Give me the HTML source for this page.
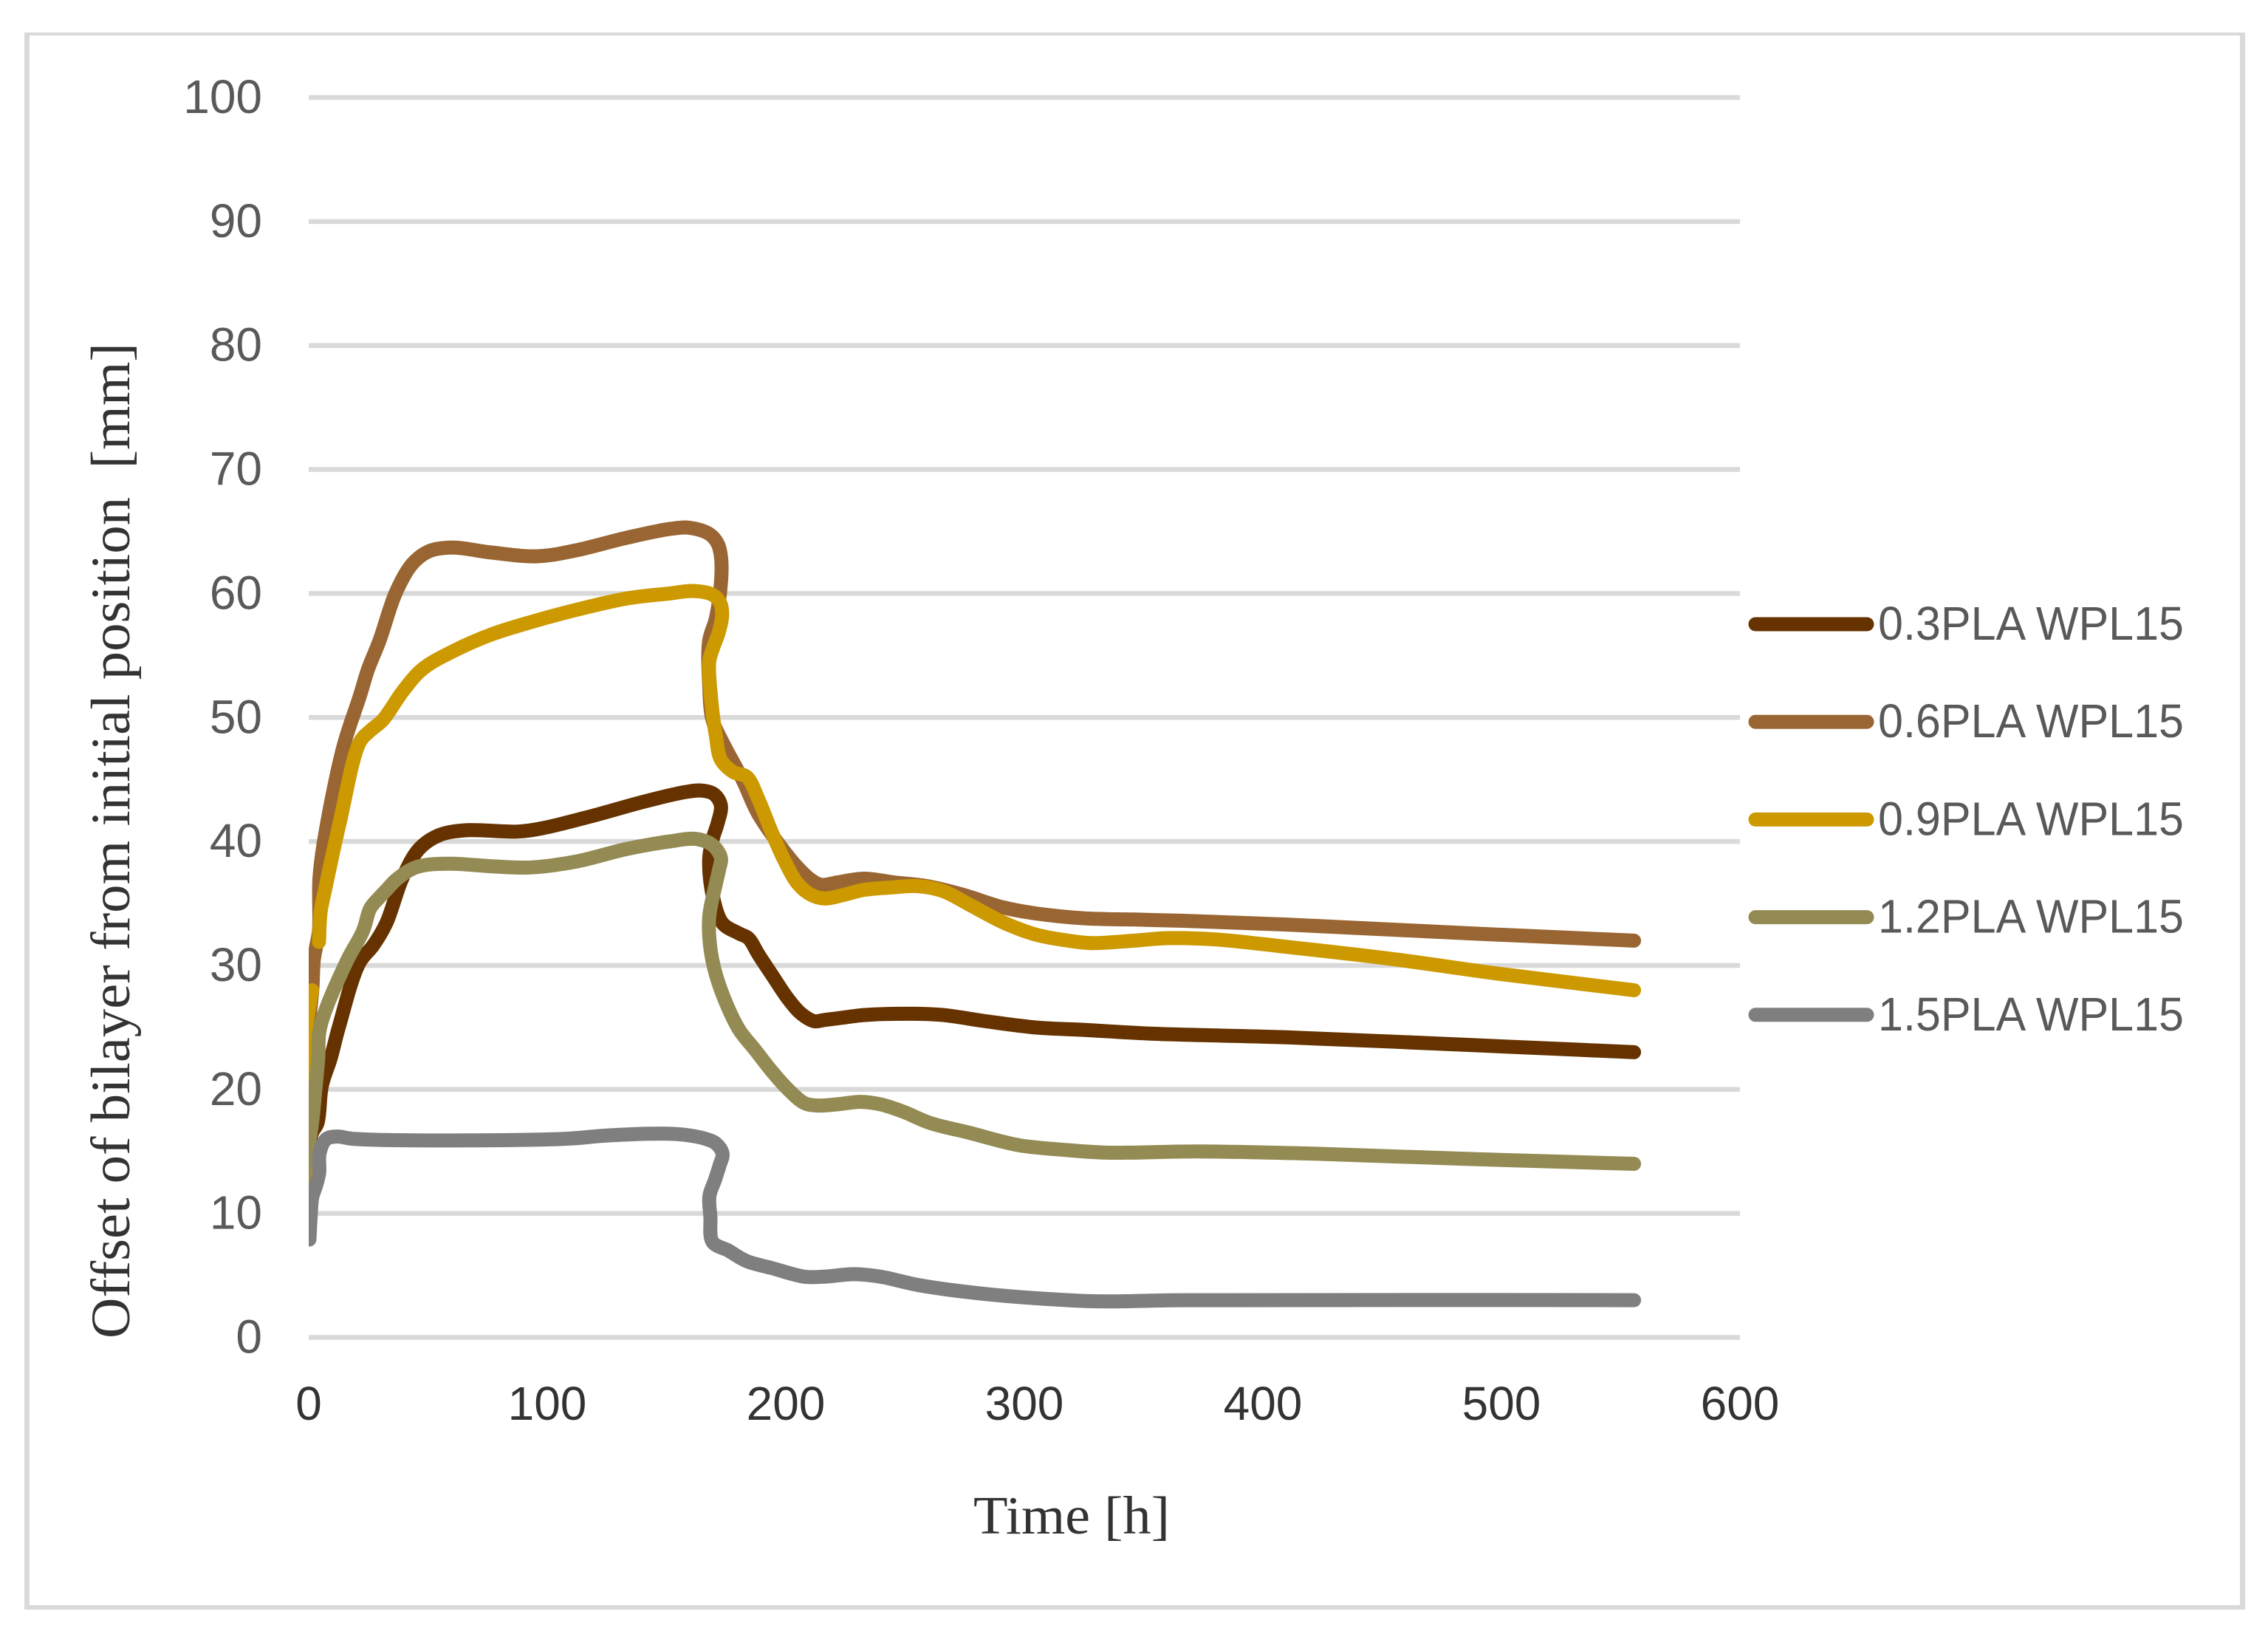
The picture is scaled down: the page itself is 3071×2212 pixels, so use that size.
<!DOCTYPE html>
<html lang="en">
<head>
<meta charset="utf-8">
<title>Offset of bilayer from initial position over time</title>
<style>
html,body{margin:0;padding:0;background:#fff;}
svg{display:block;}
text{white-space:pre;}
</style>
</head>
<body>
<svg id="chart" xmlns="http://www.w3.org/2000/svg" width="3071" height="2212" viewBox="0 0 3071 2212">
  <rect x="0" y="0" width="3071" height="2212" fill="#ffffff"/>
  <g fill="#d9d9d9">
    <rect x="33" y="44" width="3007" height="4"/>
    <rect x="33" y="44" width="7" height="2135"/>
    <rect x="3033" y="44" width="7" height="2135"/>
    <rect x="33" y="2173" width="3007" height="6"/>
  </g>
  <defs>
    <clipPath id="plot-clip"><rect x="418" y="0" width="2653" height="2212"/></clipPath>
  </defs>
  <g id="grid"></g>
  <g id="y-ticks"></g>
  <g id="x-ticks"></g>
  <g id="series" clip-path="url(#plot-clip)"></g>
  <g id="legend"></g>
  <text x="1318" y="2076" font-family="'Liberation Serif',serif" font-size="73" fill="#333333" textLength="266" lengthAdjust="spacingAndGlyphs">Time [h]</text>
  <text transform="translate(175,1812) rotate(-90)" x="0" y="0" font-family="'Liberation Serif',serif" font-size="75" fill="#333333" textLength="1348" lengthAdjust="spacingAndGlyphs" xml:space="preserve">Offset of bilayer from initial position  [mm]</text>
</svg>
<script>
const yTickValues = [0,10,20,30,40,50,60,70,80,90,100];
const xTickValues = [0,100,200,300,400,500,600];
const seriesNames = ['0.3PLA WPL15','0.6PLA WPL15','0.9PLA WPL15','1.2PLA WPL15','1.5PLA WPL15'];
const seriesColors = ['#663300','#996633','#cc9900','#948b54','#7f7f7f'];

const hours03 = [-1,1.2,3.7,5.5,9.2,12.6,21.2,27,32.5,39.4,46.3,54.6,65.7,87.8,98.8,119.6,140.3,158.3,165,170,172.8,171.5,169.5,167.9,169.3,173.5,180.2,184.3,188.5,194,201,206.5,212,216.1,224.4,232.7,253.5,265.9,283.9,304.6,325.3,353,410,485,555.6];
const values03 = [12.5,16.4,17.3,20.3,22.5,25,30.2,31.6,33.4,37.1,39.4,40.5,40.9,40.8,41.1,42.1,43.2,44,44.1,43.8,42.9,41.5,40.3,38.6,35.7,33.4,32.6,32.2,30.9,29.3,27.3,26.1,25.5,25.6,25.8,26,26.1,26,25.5,25,24.8,24.5,24.2,23.6,23];

const hours06 = [-1.9,-2.5,-1.2,1.5,2.1,3.1,4.3,4.5,6.5,14.5,21.4,24.9,29.7,36.6,43.5,50.4,60.1,76.7,96,112.6,133.4,151.3,159.6,167.9,171.5,172.9,172.8,170.7,167.9,167.9,169.3,173.5,181.8,188.5,198.2,205,210.6,214.8,221.7,232.7,245.2,259,274.2,290.8,304.6,325.3,346,366.8,410,485,555.6];
const values06 = [12.5,20.1,23.2,28,30.4,31.5,32.8,37,40.1,47.6,51.7,53.9,56.2,60.1,62.4,63.4,63.7,63.3,63,63.5,64.5,65.2,65.3,64.8,64,62.8,60.8,58,56.2,52.6,49.8,48,45,42.2,39.5,37.9,36.9,36.5,36.7,37,36.7,36.4,35.7,34.7,34.2,33.8,33.7,33.6,33.3,32.6,32];

const hours09 = [-1,-2.2,-1,1.4,null,4.3,5,7.3,13.1,21.4,25.6,31.1,39.4,47.7,60.1,76.7,93.3,112.6,133.4,151.3,161,169.3,172.6,173.3,171.8,169.5,167.9,168.6,170.7,172.8,178,183.7,188.5,194,199.6,205,210.6,216.1,224.4,232.7,245.2,254.8,265.9,277,290.8,304.6,318.4,328.1,346,359.9,380,410,455,500,555.6];
const values09 = [13,20.4,25,28,null,31.9,34.3,36.5,41.6,48,48.9,49.8,52.1,53.9,55.3,56.7,57.7,58.7,59.6,60,60.2,59.9,59.2,58.2,56.8,55.6,54.5,51.7,48.5,46.6,45.6,45.2,43.4,40.8,38.4,36.6,35.7,35.4,35.7,36.1,36.3,36.4,36,34.9,33.5,32.5,32,31.8,32,32.2,32.1,31.5,30.5,29.3,28];

const hours12 = [-2.5,1.4,2.8,4,4.8,15.6,22.8,25.8,29.7,33.1,36.6,43.5,49,60.1,76.7,93.3,112.6,133.4,151.3,162.4,169.3,172.8,172,170.7,167.9,168.6,172.1,180.2,187.1,194,201,207.8,213.4,221.7,231.3,239.6,249.3,260.4,277,297.7,318.4,335,372.5,425,485,555.6];
const values12 = [12.5,17.3,20,22.5,25,30.2,32.8,34.6,35.5,36.2,36.9,37.8,38.1,38.2,38,37.9,38.4,39.4,40,40.2,39.7,38.7,37.7,36.6,33.9,31.1,28.4,24.9,23.2,21.5,20,18.9,18.7,18.8,19,18.8,18.2,17.3,16.5,15.5,15.1,14.9,15,14.8,14.4,14];

const hours15 = [0.3,0.8,1.5,3.2,4.4,4.6,7.4,11.5,19.7,105.7,126.5,154,166.6,171,173.5,172.3,170.3,168,168.4,169.3,176,180.2,184.3,194,207.8,216.1,228.6,239.6,256.2,283.9,318.4,335,365,555.6];
const values15 = [7.9,9.7,11.3,12.3,13.3,14.9,16,16.2,16,16,16.3,16.4,16,15.6,14.8,13.9,12.7,11.4,9.7,7.7,7,6.5,6.1,5.6,4.9,4.9,5.1,4.9,4.2,3.5,3,2.9,3,3];

const seriesHours = [hours03,hours06,hours09,hours12,hours15];
const seriesValues = [values03,values06,values09,values12,values15];
const seriesKeys = ['series-0-3pla','series-0-6pla','series-0-9pla','series-1-2pla','series-1-5pla'];

const NS = 'http://www.w3.org/2000/svg';
const xAt = h => 418 + h * 3.23;
const yAt = v => 1810.5 - v * 16.785;

function smoothPath(pts){
  if(pts.length < 2) return '';
  let d = 'M' + pts[0][0].toFixed(1) + ' ' + pts[0][1].toFixed(1);
  const dist = (a,b) => Math.max(0.01, Math.pow(Math.hypot(a[0]-b[0], a[1]-b[1]), 0.5));
  for(let i = 0; i < pts.length - 1; i++){
    const p0 = pts[Math.max(0,i-1)], p1 = pts[i], p2 = pts[i+1], p3 = pts[Math.min(pts.length-1,i+2)];
    const d1 = dist(p0,p1), d2 = dist(p1,p2), d3 = dist(p2,p3);
    const c = [0,1].map(k => i === 0 ? p1[k] + (p2[k]-p1[k])/3 :
      (d1*d1*p2[k] - d2*d2*p0[k] + (2*d1*d1 + 3*d1*d2 + d2*d2)*p1[k]) / (3*d1*(d1+d2)));
    const e = [0,1].map(k => i === pts.length-2 ? p2[k] - (p2[k]-p1[k])/3 :
      (d3*d3*p1[k] - d2*d2*p3[k] + (2*d3*d3 + 3*d3*d2 + d2*d2)*p2[k]) / (3*d3*(d3+d2)));
    d += 'C' + c[0].toFixed(1) + ' ' + c[1].toFixed(1) + ' ' + e[0].toFixed(1) + ' ' + e[1].toFixed(1) + ' ' + p2[0].toFixed(1) + ' ' + p2[1].toFixed(1);
  }
  return d;
}

function buildPath(hours, values){
  let d = '', run = [];
  hours.forEach((h,i) => {
    if(h === null){ d += smoothPath(run); run = []; }
    else run.push([xAt(h), yAt(values[i])]);
  });
  return d + smoothPath(run);
}

const grid = document.getElementById('grid');
const yTicks = document.getElementById('y-ticks');
const xTicks = document.getElementById('x-ticks');
const seriesGroup = document.getElementById('series');
const legend = document.getElementById('legend');

yTickValues.forEach(v => {
  const line = document.createElementNS(NS,'line');
  
  
  line.setAttribute('x1', xAt(0));
  line.setAttribute('x2', xAt(600));
  line.setAttribute('y1', yAt(v));
  line.setAttribute('y2', yAt(v));
  line.setAttribute('stroke', '#d9d9d9');
  line.setAttribute('stroke-width', '6.5');
  grid.appendChild(line);

  const label = document.createElementNS(NS,'text');
  
  
  label.setAttribute('x', 355);
  label.setAttribute('y', yAt(v) + 21);
  label.setAttribute('text-anchor', 'end');
  label.setAttribute('font-family', "'Liberation Sans',sans-serif");
  label.setAttribute('font-size', '64');
  label.setAttribute('fill', '#595959');
  label.textContent = v;
  yTicks.appendChild(label);
});

xTickValues.forEach(v => {
  const label = document.createElementNS(NS,'text');
  
  
  label.setAttribute('x', xAt(v));
  label.setAttribute('y', 1922);
  label.setAttribute('text-anchor', 'middle');
  label.setAttribute('font-family', "'Liberation Sans',sans-serif");
  label.setAttribute('font-size', '64');
  label.setAttribute('fill', '#333333');
  label.textContent = v;
  xTicks.appendChild(label);
});

seriesNames.forEach((name,i) => {
  const path = document.createElementNS(NS,'path');
  
  
  path.setAttribute('d', buildPath(seriesHours[i], seriesValues[i]));
  path.setAttribute('fill', 'none');
  path.setAttribute('stroke', seriesColors[i]);
  path.setAttribute('stroke-width', '19');
  path.setAttribute('stroke-linecap', 'round');
  path.setAttribute('stroke-linejoin', 'round');
  seriesGroup.appendChild(path);

  const rowY = 845 + i * 132.2;
  const swatch = document.createElementNS(NS,'line');
  
  
  swatch.setAttribute('x1', 2377);
  swatch.setAttribute('x2', 2528);
  swatch.setAttribute('y1', rowY);
  swatch.setAttribute('y2', rowY);
  swatch.setAttribute('stroke', seriesColors[i]);
  swatch.setAttribute('stroke-width', '19');
  swatch.setAttribute('stroke-linecap', 'round');
  legend.appendChild(swatch);

  const label = document.createElementNS(NS,'text');
  
  
  label.setAttribute('x', 2543);
  label.setAttribute('y', rowY + 21);
  label.setAttribute('font-family', "'Liberation Sans',sans-serif");
  label.setAttribute('font-size', '64');
  label.setAttribute('fill', '#595959');
  label.setAttribute('textLength', '414');
  label.setAttribute('lengthAdjust', 'spacingAndGlyphs');
  label.textContent = name;
  legend.appendChild(label);
});
</script>
</body>
</html>
